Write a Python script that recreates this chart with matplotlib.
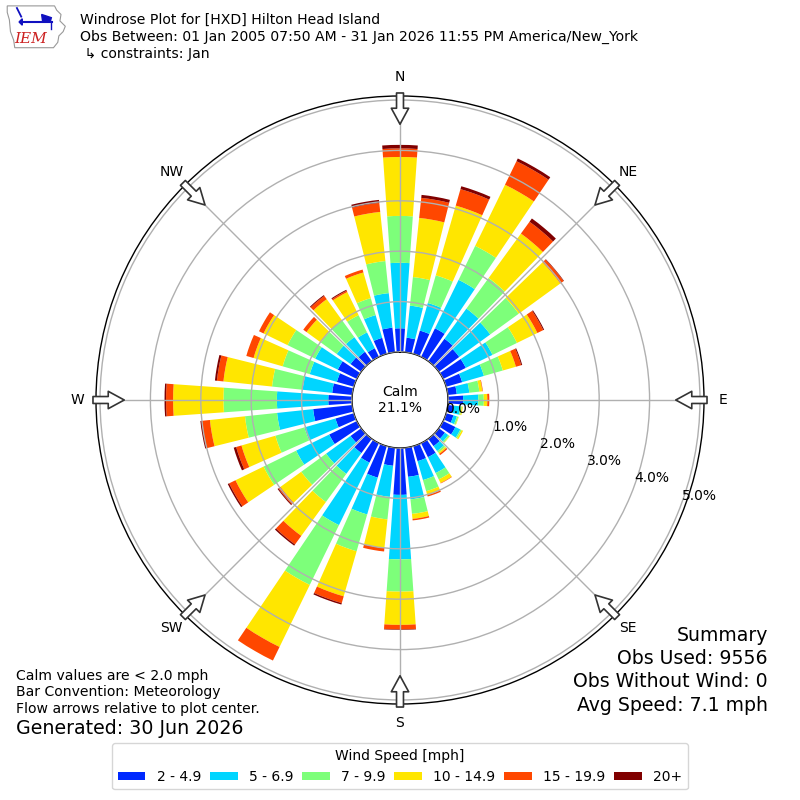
import numpy as np
import matplotlib
matplotlib.use("Agg")
import matplotlib.pyplot as plt
from matplotlib.patches import Polygon

# ---------------- data ----------------
directions = list(range(0, 360, 10))  # degrees (meteorological)
speed_bins = ["2 - 4.9", "5 - 6.9", "7 - 9.9", "10 - 14.9", "15 - 19.9", "20+"]
# percent frequency per direction for each speed bin
freq_2_5 = [0.47, 0.29, 0.48, 0.63, 0.55, 0.50, 0.50, 0.33, 0.18, 0.30, 0.12, 0.15,
            0.27, 0.15, 0.18, 0.31, 0.31, 0.58, 0.93, 0.36, 0.65, 0.43, 0.35, 0.26,
            0.61, 0.38, 0.78, 0.47, 0.40, 0.35, 0.42, 0.26, 0.23, 0.19, 0.33, 0.49]
freq_5_7 = [1.30, 0.64, 0.57, 1.07, 0.74, 0.76, 0.59, 0.45, 0.25, 0.30, 0.13, 0.07,
            0.11, 0.08, 0.12, 0.35, 0.39, 0.45, 1.28, 0.62, 0.76, 1.38, 0.51, 0.60,
            0.73, 0.64, 0.72, 1.02, 0.59, 0.56, 0.50, 0.34, 0.36, 0.35, 0.47, 0.69]
freq_7_10 = [0.93, 0.57, 0.57, 0.75, 0.75, 0.70, 0.54, 0.39, 0.20, 0.11, 0.03, 0.03,
             0.03, 0.03, 0.04, 0.14, 0.23, 0.29, 0.64, 0.45, 0.76, 1.32, 0.69, 0.61,
             0.72, 0.60, 0.64, 1.06, 0.61, 0.56, 0.61, 0.39, 0.41, 0.38, 0.35, 0.64]
freq_10_15 = [1.17, 1.18, 1.44, 1.35, 1.09, 1.02, 0.45, 0.27, 0.06, 0.07, 0.02, 0.01,
              0.03, 0.01, 0.03, 0.08, 0.08, 0.10, 0.66, 0.57, 0.93, 1.37, 0.83, 0.51,
              0.62, 0.70, 0.70, 1.00, 0.97, 0.60, 0.53, 0.35, 0.52, 0.51, 0.53, 0.98]
freq_15_20 = [0.17, 0.40, 0.34, 0.52, 0.29, 0.08, 0.13, 0.11, 0.01, 0.04, 0.00, 0.00,
              0.00, 0.00, 0.03, 0.01, 0.03, 0.03, 0.09, 0.07, 0.14, 0.30, 0.21, 0.05,
              0.14, 0.11, 0.16, 0.14, 0.13, 0.15, 0.10, 0.08, 0.08, 0.03, 0.06, 0.18]
freq_20p = [0.07, 0.06, 0.06, 0.06, 0.08, 0.01, 0.02, 0.02, 0.00, 0.00, 0.00, 0.00,
            0.00, 0.00, 0.00, 0.00, 0.00, 0.00, 0.01, 0.00, 0.03, 0.00, 0.03, 0.02,
            0.03, 0.05, 0.03, 0.03, 0.04, 0.00, 0.00, 0.00, 0.02, 0.02, 0.00, 0.06]
calm_pct = 21.1
r_ticks = [0, 1, 2, 3, 4, 5]
compass_angles = [0, 45, 90, 135, 180, 225, 270, 315]
compass_labels = ["N", "NE", "E", "SE", "S", "SW", "W", "NW"]

title_lines = ["Windrose Plot for [HXD] Hilton Head Island",
               "Obs Between: 01 Jan 2005 07:50 AM - 31 Jan 2026 11:55 PM America/New_York",
               " \u21b3 constraints: Jan"]
left_notes = ["Calm values are < 2.0 mph", "Bar Convention: Meteorology",
              "Flow arrows relative to plot center."]
generated = "Generated: 30 Jun 2026"
summary = ["Summary", "Obs Used: 9556", "Obs Without Wind: 0", "Avg Speed: 7.1 mph"]

# ---------------- figure ----------------
fig = plt.figure(figsize=(8, 8), dpi=100)
ax = fig.add_axes([0.12, 0.12, 0.76, 0.76], projection="polar")
ax.set_theta_zero_location("N")
ax.set_theta_direction(-1)
ax.set_rorigin(-0.953)
ax.set_rlim(0, 5.08)

series = [freq_2_5, freq_5_7, freq_7_10, freq_10_15, freq_15_20, freq_20p]
colors = plt.get_cmap("jet")(np.linspace(0, 1, 7)[1:])
theta = np.deg2rad(directions)
bottom = np.zeros(len(directions))
handles = []
for vals, col, lab in zip(series, colors, speed_bins):
    vals = np.asarray(vals)
    h = ax.bar(theta, vals, width=np.deg2rad(8), bottom=bottom, color=col,
               linewidth=0, label=lab, zorder=1)
    handles.append(h)
    bottom = bottom + vals

ax.set_axisbelow(False)
ax.grid(True, color="#b0b0b0", linewidth=1.0)
ax.set_rticks(r_ticks)
ax.set_yticklabels([])
for rt in r_ticks:
    ax.text(np.deg2rad(110), rt, f"{rt:.1f}%", ha="left", va="bottom",
            fontsize=10, zorder=5)
ax.set_thetagrids(compass_angles, compass_labels, fontsize=10)
ax.tick_params(axis="x", pad=3)
for sp in ax.spines.values():
    sp.set_color("black")
    sp.set_linewidth(1.0)

# flow arrows
for a in compass_angles:
    ax.annotate("", xy=(np.deg2rad(a), 4.52), xytext=(np.deg2rad(a), 5.14),
                xycoords="data", textcoords="data", annotation_clip=False,
                arrowprops=dict(arrowstyle="simple,head_length=1.15,head_width=1.25,tail_width=0.5",
                                mutation_scale=10, fc="white", ec="#333333", lw=1.2,
                                shrinkA=0, shrinkB=0), zorder=6)

ax.text(0.5, 0.5, f"Calm\n{calm_pct:.1f}%", transform=ax.transAxes, ha="center",
        va="center", fontsize=10, multialignment="center", zorder=5)

# header
for i, t in enumerate(title_lines):
    fig.text(0.1, 0.975 - i * 0.0213, t, fontsize=10.1, va="center", ha="left")

# logo
lax = fig.add_axes([0.005, 0.935, 0.082, 0.063])
lax.set_xlim(5, 66)
lax.set_ylim(52, 5)
lax.axis("off")
iowa = [(8, 9), (52, 9), (54, 13), (58, 17), (57, 23), (62, 28), (60, 33), (56, 37),
        (55, 43), (51, 48), (15, 48), (14, 41), (11, 33), (10, 22), (8, 15)]
lax.add_patch(Polygon(iowa, closed=True, fill=False, ec="#999999", lw=0.8))
lax.plot([22, 50], [24, 24], color="#1010c0", lw=1.5)
lax.plot([17, 21], [11, 19], color="#1010c0", lw=1.3)
lax.add_patch(Polygon([(40, 17), (49, 20), (48, 24), (41, 24)], closed=True, color="#1010c0"))
lax.add_patch(Polygon([(19, 24), (22, 21), (22, 27)], closed=True, color="#1010c0"))
lax.plot([49, 49], [24, 31], color="#1010c0", lw=1.0)
lax.text(30, 40, "IEM", color="#cc2020", fontsize=11, family="DejaVu Serif",
         style="italic", ha="center", va="center")

# notes
for i, t in enumerate(left_notes):
    fig.text(0.02, 0.155 - i * 0.0206, t, fontsize=10.1, va="center", ha="left")
fig.text(0.02, 0.09, generated, fontsize=13.7, va="center", ha="left")
for i, t in enumerate(summary):
    fig.text(0.96, 0.206 - i * 0.0292, t, fontsize=13.6, va="center", ha="right")

leg = fig.legend(handles=handles, labels=speed_bins, loc="lower center",
                 bbox_to_anchor=(0.5, 0.0045), ncol=6, title="Wind Speed [mph]",
                 fontsize=10, title_fontsize=10, columnspacing=0.64,
                 handletextpad=0.8, handlelength=2.0, handleheight=0.6)

fig.savefig("out.png", dpi=100)
